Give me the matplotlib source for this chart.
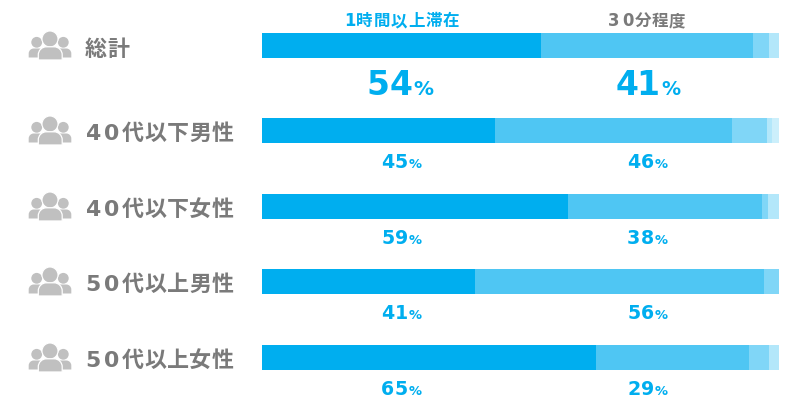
import matplotlib
matplotlib.use("Agg")
import matplotlib.pyplot as plt
from matplotlib.text import Text
from matplotlib.patches import Circle, PathPatch
from matplotlib.path import Path
from matplotlib.transforms import Bbox, IdentityTransform

plt.rcParams['font.family'] = ['DejaVu Sans', 'Noto Sans CJK JP']

categories = ["総計", "40代以下男性", "40代以下女性", "50代以上男性", "50代以上女性"]
series_1h = [54, 45.1, 59.2, 41.3, 64.6]
series_30m = [41, 45.8, 37.6, 55.8, 29.6]
series_c = [3, 6.8, 1.1, 2.9, 3.9]
series_d = [2, 0.9, 2.1, 0, 1.9]
series_e = [0, 1.4, 0, 0, 0]
labels_1h = ["54", "45", "59", "41", "65"]
labels_30m = ["41", "46", "38", "56", "29"]
header_1h = "1時間以上滞在"
header_30m = "30分程度"

BLUE = "#00aeef"
GRAY = "#7a7a7a"
ICON = "#c0c0c0"
colors = [BLUE, "#4fc6f3", "#80d6f7", "#b3e7fa", "#cceffb"]
row_tops = [33, 118, 194, 269, 345]
BAR_H = 25
PX = 0.72  # points per pixel at dpi=100


class SpacedText(Text):
    """One text object drawn in fixed-width cells (pixels), like letter-spacing."""

    def __init__(self, x, y, s, ascii_cell=0, wide_cell=0, **kw):
        super().__init__(x, y, s, **kw)
        self._ascii_cell = ascii_cell
        self._wide_cell = wide_cell

    def _parts(self, renderer):
        prop = self.get_fontproperties()
        x0, y0 = self.get_transform().transform(self.get_unitless_position())
        parts = []
        for ch in self.get_text():
            cell = self._ascii_cell if ch.isascii() else self._wide_cell
            t = Text(x0 + cell / 2, y0, ch, color=self.get_color(),
                     fontproperties=prop, ha="center", va="baseline")
            t.set_figure(self.get_figure())
            t.set_transform(IdentityTransform())
            parts.append(t)
            x0 += cell
        return parts

    def draw(self, renderer):
        for t in self._parts(renderer):
            t.draw(renderer)

    def get_window_extent(self, renderer=None, dpi=None):
        if renderer is None:
            renderer = self.get_figure().canvas.get_renderer()
        return Bbox.union([t.get_window_extent(renderer)
                           for t in self._parts(renderer)])


fig = plt.figure(figsize=(8, 4.08), dpi=100, facecolor="white")

# Bars: x in percent, y in pixel rows
ax = fig.add_axes([261.5 / 800, 0, 517.5 / 800, 1])
ax.set_xlim(0, 100)
ax.set_ylim(408, 0)
ax.axis("off")
centers = [t + BAR_H / 2 for t in row_tops]
left = [0] * 5
for vals, col in zip([series_1h, series_30m, series_c, series_d, series_e], colors):
    ax.barh(centers, vals, left=left, height=BAR_H, color=col, linewidth=0)
    left = [a + b for a, b in zip(left, vals)]

# Overlay in pixel coordinates for text and icons
ov = fig.add_axes([0, 0, 1, 1], zorder=5)
ov.set_xlim(0, 800)
ov.set_ylim(408, 0)
ov.axis("off")
ov.patch.set_alpha(0)


def spaced(x, y, s, size, color, ascii_cell, wide_cell=0):
    t = SpacedText(x, y, s, ascii_cell=ascii_cell, wide_cell=wide_cell, color=color,
                   fontsize=size * PX, fontweight="bold", ha="left", va="baseline",
                   transform=ov.transData)
    ov.add_artist(t)
    return t


def body(x0, x1, top, bot, dy, r):
    M, L, C, Z = Path.MOVETO, Path.LINETO, Path.CURVE4, Path.CLOSEPOLY
    verts = [(x0, bot), (x0, top + r), (x0, top + r * .45), (x0 + r * .45, top), (x0 + r, top),
             (x1 - r, top), (x1 - r * .45, top), (x1, top + r * .45), (x1, top + r),
             (x1, bot), (x0, bot)]
    codes = [M, L, C, C, C, L, C, C, C, L, Z]
    return Path([(x, y + dy) for x, y in verts], codes)


def icon(dy):
    for cx in (36.7, 63.3):
        ov.add_patch(Circle((cx, 42.3 + dy), 5.4, fc=ICON, ec="none"))
    ov.add_patch(PathPatch(body(28.7, 44, 48.5, 57.5, dy, 5), fc=ICON, ec="none"))
    ov.add_patch(PathPatch(body(56, 71.3, 48.5, 57.5, dy, 5), fc=ICON, ec="none"))
    ov.add_patch(Circle((50, 39 + dy), 8, fc=ICON, ec="white", lw=0.8))
    ov.add_patch(PathPatch(body(38.3, 62.2, 46.8, 60, dy, 8), fc=ICON, ec="white", lw=0.9))


for i, (cat, top) in enumerate(zip(categories, row_tops)):
    icon(top - 33)
    spaced(84, top + 22 if i else 55.5, cat, 22, GRAY, 18.5, 22.7)

    if i == 0:
        spaced(367, 95, labels_1h[i], 33, BLUE, 22.5)
        spaced(414, 95, "%", 20, BLUE, 19)
        spaced(617, 95, labels_30m[i], 33, BLUE, 20.5)
        spaced(662, 95, "%", 19, BLUE, 17)
    else:
        base = top + BAR_H + 25
        spaced(381, base, labels_1h[i], 19, BLUE, 13.5)
        spaced(409, base, "%", 13, BLUE, 13)
        spaced(627, base, labels_30m[i], 19, BLUE, 13.5)
        spaced(655, base, "%", 13, BLUE, 13)

spaced(344, 26, header_1h, 16.5, BLUE, 12, 17.3)
spaced(607, 26, header_30m, 16.5, GRAY, 14, 16.8)

fig.savefig("out.png", dpi=100)
